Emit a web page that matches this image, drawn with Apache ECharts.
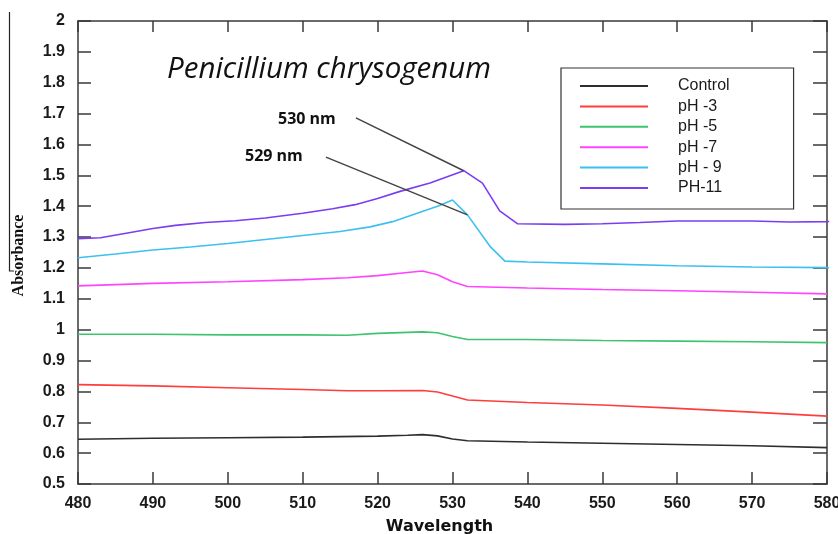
<!DOCTYPE html>
<html>
<head>
<meta charset="utf-8">
<title>Penicillium chrysogenum absorbance</title>
<script src="https://cdn.jsdelivr.net/npm/echarts@6/dist/echarts.min.js"></script>
<style>
  html, body { margin: 0; padding: 0; background: #ffffff; }
  #chart { width: 838px; height: 534px; }
</style>
</head>
<body>
<div id="chart"></div>
<script>
// Absorbance spectra, [wavelength (nm), absorbance]
const control = [[480,0.645],[490,0.648],[500,0.650],[510,0.652],[520,0.655],[524,0.658],[526,0.660],[528,0.656],[530,0.646],[532,0.640],[540,0.636],[550,0.632],[560,0.628],[570,0.624],[580,0.618]];
const ph3 = [[480,0.822],[490,0.818],[500,0.812],[510,0.806],[516,0.802],[520,0.802],[526,0.803],[528,0.798],[530,0.785],[532,0.772],[540,0.764],[550,0.756],[560,0.745],[570,0.733],[580,0.720]];
const ph5 = [[480,0.985],[490,0.985],[500,0.983],[510,0.983],[516,0.982],[520,0.988],[526,0.993],[528,0.990],[530,0.978],[532,0.968],[540,0.968],[550,0.965],[560,0.963],[570,0.961],[580,0.958]];
const ph7 = [[480,1.142],[490,1.150],[500,1.155],[510,1.162],[516,1.168],[520,1.175],[524,1.185],[526,1.190],[528,1.178],[530,1.155],[532,1.140],[540,1.135],[550,1.130],[560,1.126],[570,1.121],[580,1.116]];
const ph9 = [[480,1.233],[485,1.245],[490,1.258],[495,1.268],[500,1.279],[505,1.292],[510,1.305],[515,1.318],[519,1.333],[522,1.350],[525,1.375],[528,1.400],[530,1.420],[532,1.372],[535,1.270],[537,1.222],[540,1.219],[550,1.213],[560,1.207],[570,1.203],[580,1.201],[581.5,1.200]];
const ph11 = [[480,1.295],[483,1.298],[487,1.315],[490,1.328],[493,1.338],[497,1.347],[501,1.353],[505,1.362],[510,1.377],[514,1.392],[517,1.405],[520,1.425],[523,1.448],[527,1.475],[531.5,1.515],[534,1.475],[536.3,1.385],[538.7,1.343],[545,1.341],[550,1.343],[555,1.347],[560,1.352],[570,1.352],[575,1.349],[580,1.350],[581.5,1.352]];

const seriesNames = ['Control', 'pH -3', 'pH -5', 'pH -7', 'pH - 9', 'PH-11'];
const seriesData = [control, ph3, ph5, ph7, ph9, ph11];
const seriesColors = ['#2e2e2e', '#ff3d3d', '#3cc46e', '#ff44ff', '#3dc0f0', '#7b3cf2'];

// Leader lines for the peak callouts: label anchor -> peak on the curve
const peakLabels = ['530 nm', '529 nm'];
const peakAnchors = [[517.1, 1.686], [513.1, 1.559]];
const peakTargets = [ph11[14], ph9[13]];

const chart = echarts.init(document.getElementById('chart'), null, { renderer: 'canvas' });

const frameColor = '#3a3a3a';
const tickLabelFont = { color: '#1a1a1a', fontFamily: 'Liberation Sans, Arial, sans-serif', fontWeight: 'bold', fontSize: 16 };

const series = seriesNames.map((name, i) => ({
  name: name,
  type: 'line',
  data: seriesData[i],
  xAxisIndex: 0,
  yAxisIndex: 0,
  symbol: 'none',
  showSymbol: false,
  clip: false,
  smooth: false,
  z: 3,
  lineStyle: { color: seriesColors[i], width: 1.6 },
  itemStyle: { color: seriesColors[i] },
  emphasis: { disabled: true }
}));

series[5].markLine = {
  silent: true,
  symbol: 'none',
  animation: false,
  label: { show: false },
  lineStyle: { color: '#444444', width: 1.5, type: 'solid' },
  data: peakAnchors.map((a, i) => [{ coord: a }, { coord: peakTargets[i] }])
};

const option = {
  animation: false,
  backgroundColor: '#ffffff',
  grid: { left: 78, right: 11, top: 21, bottom: 50, containLabel: false, outerBoundsMode: 'none' },
  legend: {
    orient: 'vertical',
    left: 561,
    top: 68,
    data: seriesNames,
    icon: 'rect',
    itemWidth: 68,
    itemHeight: 2,
    itemGap: 4.4,
    padding: [10, 64, 13, 19],
    borderColor: '#333333',
    borderWidth: 1.2,
    backgroundColor: '#ffffff',
    textStyle: { color: '#1a1a1a', fontFamily: 'Liberation Sans, Arial, sans-serif', fontSize: 16, lineHeight: 16, padding: [0, 0, 0, 25] },
    selectedMode: false
  },
  xAxis: [
    {
      type: 'value',
      min: 480, max: 580, interval: 10,
      name: 'Wavelength',
      nameLocation: 'middle',
      nameGap: 35,
      nameTextStyle: { color: '#111', fontFamily: 'DejaVu Sans, sans-serif', fontWeight: 'bold', fontSize: 16, padding: [0, 26, 0, 0] },
      axisLine: { show: true, lineStyle: { color: frameColor, width: 1.5 } },
      axisTick: { show: true, inside: true, length: 12, lineStyle: { color: frameColor, width: 1.5 } },
      axisLabel: Object.assign({ margin: 12 }, tickLabelFont),
      splitLine: { show: false }
    },
    {
      type: 'value',
      position: 'top',
      min: 480, max: 580, interval: 10,
      axisLine: { show: true, lineStyle: { color: frameColor, width: 1.5 } },
      axisTick: { show: true, inside: true, length: 11, lineStyle: { color: frameColor, width: 1.5 } },
      axisLabel: { show: false },
      splitLine: { show: false }
    }
  ],
  yAxis: [
    {
      type: 'value',
      min: 0.5, max: 2, interval: 0.1,
      name: 'Absorbance',
      nameLocation: 'middle',
      nameGap: 51,
      nameRotate: 90,
      nameTextStyle: { color: '#111', fontFamily: 'Liberation Serif, Times New Roman, serif', fontWeight: 'bold', fontSize: 16, padding: [0, 6, 0, 0] },
      axisLine: { show: true, lineStyle: { color: frameColor, width: 1.5 } },
      axisTick: { show: true, inside: true, length: 13, lineStyle: { color: frameColor, width: 1.5 } },
      axisLabel: Object.assign({ margin: 13 }, tickLabelFont),
      splitLine: { show: false }
    },
    {
      type: 'value',
      position: 'right',
      min: 0.5, max: 2, interval: 0.1,
      axisLine: { show: true, lineStyle: { color: frameColor, width: 1.5 } },
      axisTick: { show: true, inside: true, length: 14, lineStyle: { color: frameColor, width: 1.5 } },
      axisLabel: { show: false },
      splitLine: { show: false }
    }
  ],
  graphic: [
    {
      type: 'text',
      left: 167, top: 55,
      style: {
        text: 'Penicillium chrysogenum',
        fill: '#111',
        font: 'italic 29.5px "Open Sans", "Noto Sans", sans-serif'
      },
      z: 10
    },
    {
      type: 'text',
      left: 278, top: 111,
      style: { text: peakLabels[0], fill: '#111', font: 'bold 16px "Open Sans", "Noto Sans", sans-serif' },
      z: 10
    },
    {
      type: 'text',
      left: 245, top: 148,
      style: { text: peakLabels[1], fill: '#111', font: 'bold 16px "Open Sans", "Noto Sans", sans-serif' },
      z: 10
    },
    {
      type: 'polyline',
      shape: { points: [[9.5, 12], [9.5, 271], [14, 271]] },
      style: { stroke: '#222', lineWidth: 1.2, fill: null },
      z: 10
    }
  ],
  series: series
};

chart.setOption(option);
</script>
</body>
</html>
